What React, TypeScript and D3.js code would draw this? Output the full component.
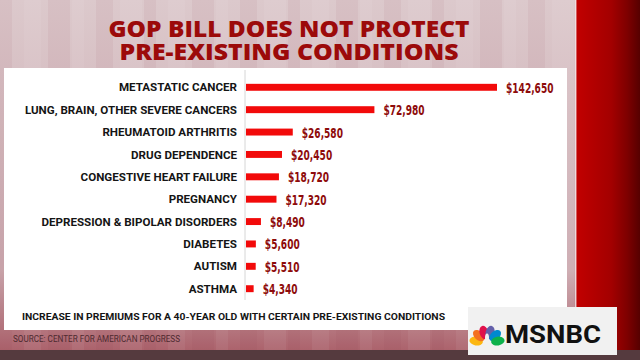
import React, { useEffect } from 'react';
import * as d3 from 'd3';

const conditions = [
  'METASTATIC CANCER',
  'LUNG, BRAIN, OTHER SEVERE CANCERS',
  'RHEUMATOID ARTHRITIS',
  'DRUG DEPENDENCE',
  'CONGESTIVE HEART FAILURE',
  'PREGNANCY',
  'DEPRESSION & BIPOLAR DISORDERS',
  'DIABETES',
  'AUTISM',
  'ASTHMA',
];
const premiums = [142650, 72980, 26580, 20450, 18720, 17320, 8490, 5600, 5510, 4340];

const titleLines = ['GOP BILL DOES NOT PROTECT', 'PRE-EXISTING CONDITIONS'];
const footnote = 'INCREASE IN PREMIUMS FOR A 40-YEAR OLD WITH CERTAIN PRE-EXISTING CONDITIONS';
const source = 'SOURCE: CENTER FOR AMERICAN PROGRESS';

const peacockColors = ['#fcb711', '#f37021', '#e0124b', '#6460aa', '#0089d0', '#0db14b'];

const W = 640;
const H = 360;

export default function App() {
  useEffect(() => {
    document.body.style.margin = '0';
  }, []);

  const x = d3.scaleLinear().domain([0, d3.max(premiums) as number]).range([246, 497]);
  const y = d3.scaleBand<string>().domain(conditions).range([76, 300]).paddingInner(0.69).paddingOuter(0.35);
  const fmt = d3.format('$,');

  const stripes = d3.range(0, 580, 24);
  const feather = d3.scaleLinear().domain([0, peacockColors.length - 1]).range([-80, 80]);

  return (
    <svg width={W} height={H} style={{ display: 'block' }}>
      <defs>
        <linearGradient id="bg" x1="0" y1="0" x2="0" y2="1">
          <stop offset="0" stopColor="#dcc9cc" />
          <stop offset="0.75" stopColor="#ccaab0" />
          <stop offset="1" stopColor="#a85a64" />
        </linearGradient>
        <linearGradient id="side" x1="0" y1="0" x2="1" y2="0">
          <stop offset="0" stopColor="#c20000" />
          <stop offset="0.55" stopColor="#a30000" />
          <stop offset="0.8" stopColor="#7e0000" />
          <stop offset="1" stopColor="#560000" />
        </linearGradient>
      </defs>

      <rect width={W} height={H} fill="url(#bg)" />
      {stripes.map((s, i) => (
        <rect key={s} x={s} y={0} width={12 + (i % 3) * 5} height={H}
          fill={i % 2 ? '#ffffff' : '#8a3a44'} opacity={0.06} />
      ))}
      <rect x={576} y={0} width={64} height={H} fill="url(#side)" />
      <rect x={575} y={0} width={1.5} height={H} fill="#f4e4e6" opacity={0.8} />
      <rect x={0} y={350} width={W} height={10} fill="#553a3e" />

      {/* title: one text element, two lines */}
      <text textAnchor="middle" fill="#9c0a0a" fontFamily="'Open Sans', sans-serif"
        fontWeight={800} fontSize={22.5}>
        {titleLines.map((t, i) => (
          <tspan key={t} x={289} y={37 + i * 23} textLength={i === 0 ? 361 : 339}
            lengthAdjust="spacingAndGlyphs">{t}</tspan>
        ))}
      </text>

      <rect x={4} y={68} width={563} height={262} fill="#ffffff" />
      <line x1={245} x2={245} y1={70} y2={300} stroke="#d6d6d6" strokeWidth={1} />

      {conditions.map((c, i) => {
        const v = premiums[i];
        const yc = (y(c) as number) + y.bandwidth() / 2;
        return (
          <g key={c}>
            <text x={237} y={yc} dy="0.36em" textAnchor="end" fill="#151515"
              fontFamily="Roboto, sans-serif" fontWeight={700} fontSize={11.6}>{c}</text>
            <rect x={x(0)} y={y(c)} width={x(v) - x(0)} height={y.bandwidth()} fill="#f20a0a" />
            <g transform={`translate(${x(v) + 9},${yc}) scale(0.68,1)`}>
              <text x={0} y={0} dy="0.37em" fill="#8e0b0b"
                fontFamily="'DejaVu Sans Condensed', 'DejaVu Sans', sans-serif"
                fontWeight={700} fontSize={14.8}>{fmt(v)}</text>
            </g>
          </g>
        );
      })}

      <text x={22} y={320} fill="#151515" fontFamily="Roboto, sans-serif" fontWeight={700}
        fontSize={9.6} textLength={423} lengthAdjust="spacingAndGlyphs">{footnote}</text>
      <text x={13} y={342} fill="#4e2a30" fontFamily="Roboto, sans-serif"
        fontSize={8.4} textLength={167} lengthAdjust="spacingAndGlyphs">{source}</text>

      <g>
        <rect x={468} y={307} width={149} height={48} fill="#f1f1f1" />
        <g transform="translate(487,343)">
          {peacockColors.map((col, i) => (
            <ellipse key={col} cx={0} cy={-11} rx={4.4} ry={6.8} fill={col}
              transform={`rotate(${feather(i)})`} />
          ))}
          <ellipse cx={0} cy={-5} rx={2} ry={4.5} fill="#f1f1f1" />
        </g>
        <text x={505} y={343} fill="#111" fontFamily="Roboto, sans-serif" fontWeight={700}
          fontSize={26.5} textLength={96} lengthAdjust="spacingAndGlyphs">MSNBC</text>
      </g>
    </svg>
  );
}
